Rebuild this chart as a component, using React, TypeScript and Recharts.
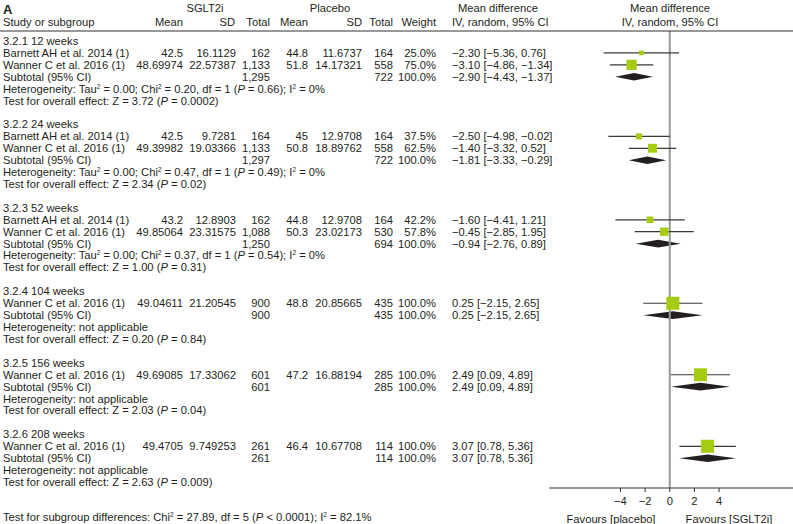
import React from 'react'
import { ComposedChart, Line, Area, Scatter, XAxis, YAxis, ReferenceLine } from 'recharts'

const groupLabels = ['3.2.1 12 weeks', '3.2.2 24 weeks', '3.2.3 52 weeks', '3.2.4 104 weeks', '3.2.5 156 weeks', '3.2.6 208 weeks']

const studyNames = [
  'Barnett AH et al. 2014 (1)', 'Wanner C et al. 2016 (1)',
  'Barnett AH et al. 2014 (1)', 'Wanner C et al. 2016 (1)',
  'Barnett AH et al. 2014 (1)', 'Wanner C et al. 2016 (1)',
  'Wanner C et al. 2016 (1)', 'Wanner C et al. 2016 (1)', 'Wanner C et al. 2016 (1)',
]
const studyGroup = [0, 0, 1, 1, 2, 2, 3, 4, 5]
const sgltMean = [42.5, 48.69974, 42.5, 49.39982, 43.2, 49.85064, 49.04611, 49.69085, 49.4705]
const sgltSD = [16.1129, 22.57387, 9.7281, 19.03366, 12.8903, 23.31575, 21.20545, 17.33062, 9.749253]
const sgltTotal = [162, 1133, 164, 1133, 162, 1088, 900, 601, 261]
const placMean = [44.8, 51.8, 45, 50.8, 44.8, 50.3, 48.8, 47.2, 46.4]
const placSD = [11.6737, 14.17321, 12.9708, 18.89762, 12.9708, 23.02173, 20.85665, 16.88194, 10.67708]
const placTotal = [164, 558, 164, 558, 164, 530, 435, 285, 114]
const studyWeight = [25.0, 75.0, 37.5, 62.5, 42.2, 57.8, 100, 100, 100]
const studyMD = [-2.3, -3.1, -2.5, -1.4, -1.6, -0.45, 0.25, 2.49, 3.07]
const studyLo = [-5.36, -4.86, -4.98, -3.32, -4.41, -2.85, -2.15, 0.09, 0.78]
const studyHi = [0.76, -1.34, -0.02, 0.52, 1.21, 1.95, 2.65, 4.89, 5.36]

const subSgltTotal = [1295, 1297, 1250, 900, 601, 261]
const subPlacTotal = [722, 722, 694, 435, 285, 114]
const subMD = [-2.9, -1.81, -0.94, 0.25, 2.49, 3.07]
const subLo = [-4.43, -3.33, -2.76, -2.15, 0.09, 0.78]
const subHi = [-1.37, -0.29, 0.89, 2.65, 4.89, 5.36]

const hetTau = ['0.00', '0.00', '0.00', null, null, null]
const hetChi = ['0.20', '0.47', '0.37', null, null, null]
const hetDf = [1, 1, 1, null, null, null]
const hetP = ['0.66', '0.49', '0.54', null, null, null]
const hetI2 = ['0%', '0%', '0%', null, null, null]
const zValue = ['3.72', '2.34', '1.00', '0.20', '2.03', '2.63']
const zP = ['0.0002', '0.02', '0.31', '0.84', '0.04', '0.009']

const xTicks = [-4, -2, 0, 2, 4]

// layout
const W = 793
const H = 524
const ROW0 = 41
const ROW_H = 11.92
const PLOT_TOP = 31
const PLOT_BOTTOM = 488
const PLOT_LEFT = 549
const FONT = '"Liberation Sans", Arial, sans-serif'
const FS = 11.2
const TXT = '#231f20'
const GREEN = '#a6cc12'

const rowY = (r: number) => ROW0 + r * ROW_H
const minus = (s: string) => s.replace(/-/g, '\u2212')
const fmtCI = (m: number, lo: number, hi: number) =>
  minus(`${m.toFixed(2)} [${lo.toFixed(2)}, ${hi.toFixed(2)}]`)
const fmtN = (n: number) => n.toLocaleString('en-US')

// assign rows
const studyRow: number[] = []
const subRow: number[] = []
const groupRow: number[] = []
{
  let r = 0
  groupLabels.forEach((_, g) => {
    groupRow.push(r)
    r++
    studyGroup.forEach((sg, i) => {
      if (sg === g) {
        studyRow[i] = r
        r++
      }
    })
    subRow.push(r)
    r += 4
  })
}

const col = { sgMean: 183, sgSD: 236, sgTotal: 270, plMean: 308, plSD: 362, plTotal: 393, weight: 436, ci: 452 }

// segments: plain strings, '^x' = superscript, '_P' = italic
function Rich({ parts }: { parts: string[] }) {
  const out: React.ReactNode[] = []
  let raised = false
  parts.forEach((p, i) => {
    if (p.startsWith('^')) {
      out.push(<tspan key={i} dy={-4} fontSize={6.5}>{p.slice(1)}</tspan>)
      raised = true
    } else {
      const dy = raised ? 4 : undefined
      raised = false
      if (p.startsWith('_')) out.push(<tspan key={i} dy={dy} fontStyle="italic">{p.slice(1)}</tspan>)
      else out.push(<tspan key={i} dy={dy}>{p}</tspan>)
    }
  })
  return <>{out}</>
}

function T(props: any) {
  return <text fontFamily={FONT} fontSize={FS} fill={TXT} dy="0.35em" {...props} />
}

function TableText() {
  const rows: React.ReactNode[] = []
  groupLabels.forEach((lab, g) => {
    const gr = groupRow[g]
    rows.push(<T key={`g${g}`} x={3} y={rowY(gr)}>{lab}</T>)
    const sr = subRow[g]
    rows.push(<T key={`s${g}`} x={3} y={rowY(sr)}>Subtotal (95% CI)</T>)
    rows.push(<T key={`st${g}`} x={col.sgTotal} y={rowY(sr)} textAnchor="end">{fmtN(subSgltTotal[g])}</T>)
    rows.push(<T key={`pt${g}`} x={col.plTotal} y={rowY(sr)} textAnchor="end">{fmtN(subPlacTotal[g])}</T>)
    rows.push(<T key={`w${g}`} x={col.weight} y={rowY(sr)} textAnchor="end">100.0%</T>)
    rows.push(<T key={`c${g}`} x={col.ci} y={rowY(sr)}>{fmtCI(subMD[g], subLo[g], subHi[g])}</T>)
    if (hetTau[g] !== null) {
      rows.push(
        <T key={`h${g}`} x={3} y={rowY(sr + 1)}>
          <Rich
            parts={[
              'Heterogeneity: Tau', '^2', ` = ${hetTau[g]}; Chi`, '^2',
              ` = ${hetChi[g]}, df = ${hetDf[g]} (`, '_P', ` = ${hetP[g]}); I`, '^2', ` = ${hetI2[g]}`,
            ]}
          />
        </T>
      )
    } else {
      rows.push(<T key={`h${g}`} x={3} y={rowY(sr + 1)}>Heterogeneity: not applicable</T>)
    }
    rows.push(
      <T key={`z${g}`} x={3} y={rowY(sr + 2)}>
        <Rich parts={[`Test for overall effect: Z = ${zValue[g]} (`, '_P', ` = ${zP[g]})`]} />
      </T>
    )
  })
  studyNames.forEach((name, i) => {
    const y = rowY(studyRow[i])
    rows.push(<T key={`n${i}`} x={3} y={y}>{name}</T>)
    rows.push(<T key={`a${i}`} x={col.sgMean} y={y} textAnchor="end">{String(sgltMean[i])}</T>)
    rows.push(<T key={`b${i}`} x={col.sgSD} y={y} textAnchor="end">{String(sgltSD[i])}</T>)
    rows.push(<T key={`c${i}`} x={col.sgTotal} y={y} textAnchor="end">{fmtN(sgltTotal[i])}</T>)
    rows.push(<T key={`d${i}`} x={col.plMean} y={y} textAnchor="end">{String(placMean[i])}</T>)
    rows.push(<T key={`e${i}`} x={col.plSD} y={y} textAnchor="end">{String(placSD[i])}</T>)
    rows.push(<T key={`f${i}`} x={col.plTotal} y={y} textAnchor="end">{fmtN(placTotal[i])}</T>)
    rows.push(<T key={`k${i}`} x={col.weight} y={y} textAnchor="end">{studyWeight[i].toFixed(1) + '%'}</T>)
    rows.push(<T key={`m${i}`} x={col.ci} y={y}>{fmtCI(studyMD[i], studyLo[i], studyHi[i])}</T>)
  })

  return (
    <svg width={W} height={H} style={{ position: 'absolute', left: 0, top: 0, pointerEvents: 'none' }}>
      <text x={3} y={14} fontFamily={FONT} fontSize={13} fontWeight="bold" fill={TXT}>A</text>
      <T x={205} y={8} textAnchor="middle">SGLT2i</T>
      <T x={330} y={8} textAnchor="middle">Placebo</T>
      <T x={498} y={8} textAnchor="middle">Mean difference</T>
      <T x={670} y={8} textAnchor="middle">Mean difference</T>
      <T x={3} y={22}>Study or subgroup</T>
      <T x={col.sgMean} y={22} textAnchor="end">Mean</T>
      <T x={col.sgSD - 1} y={22} textAnchor="end">SD</T>
      <T x={col.sgTotal} y={22} textAnchor="end">Total</T>
      <T x={col.plMean} y={22} textAnchor="end">Mean</T>
      <T x={col.plSD} y={22} textAnchor="end">SD</T>
      <T x={col.plTotal} y={22} textAnchor="end">Total</T>
      <T x={col.weight} y={22} textAnchor="end">Weight</T>
      <T x={col.ci} y={22}>IV, random, 95% CI</T>
      <T x={670} y={22} textAnchor="middle">IV, random, 95% CI</T>
      <line x1={0} x2={W} y1={PLOT_TOP} y2={PLOT_TOP} stroke="#333" strokeWidth={1} />
      {rows}
      <T x={3} y={517}>
        <Rich
          parts={['Test for subgroup differences: Chi', '^2', ' = 27.89, df = 5 (', '_P', ' < 0.0001); I', '^2', ' = 82.1%']}
        />
      </T>
      <T x={611} y={519} textAnchor="middle">Favours [placebo]</T>
      <T x={729} y={519} textAnchor="middle">Favours [SGLT2i]</T>
    </svg>
  )
}

const squareData = studyNames.map((_, i) => ({ x: studyMD[i], y: studyRow[i], w: studyWeight[i] }))

const Square = (props: any) => {
  const { cx, cy, payload } = props
  if (cx == null || cy == null) return null
  const s = 2 + (11 * payload.w) / 100
  return <rect x={cx - s / 2} y={cy - s / 2} width={s} height={s} fill={GREEN} />
}

export default function App() {
  const d0 = (PLOT_TOP - ROW0) / ROW_H
  const d1 = (PLOT_BOTTOM - ROW0) / ROW_H
  return (
    <div style={{ position: 'absolute', left: 0, top: 0, width: W, height: H, background: '#fff' }}>
      <ComposedChart width={W} height={H} margin={{ top: PLOT_TOP, right: 0, bottom: 0, left: PLOT_LEFT }}>
        <XAxis
          type="number"
          dataKey="x"
          domain={[-9.8, 10]}
          ticks={xTicks}
          allowDataOverflow
          height={H - PLOT_BOTTOM}
          stroke="#333"
          tickSize={4}
          tickMargin={5}
          tick={{ fontSize: FS, fill: TXT, fontFamily: FONT }}
          tickFormatter={(v: number) => minus(String(v))}
        />
        <YAxis type="number" dataKey="y" domain={[d0, d1]} reversed hide allowDataOverflow />
        <ReferenceLine x={0} stroke="#999" strokeWidth={2} />
        {studyNames.map((_, i) => (
          <Line
            key={`ci${i}`}
            data={[{ x: studyLo[i], y: studyRow[i] }, { x: studyHi[i], y: studyRow[i] }]}
            dataKey="y"
            type="linear"
            stroke="#3a3a3a"
            strokeWidth={1.2}
            dot={false}
            activeDot={false}
            isAnimationActive={false}
          />
        ))}
        {groupLabels.map((_, g) => (
          <Area
            key={`dia${g}`}
            data={[
              { x: subLo[g], v: [subRow[g], subRow[g]] },
              { x: subMD[g], v: [subRow[g] - 0.32, subRow[g] + 0.32] },
              { x: subHi[g], v: [subRow[g], subRow[g]] },
            ]}
            dataKey="v"
            type="linear"
            stroke="none"
            fill="#231f20"
            fillOpacity={1}
            dot={false}
            activeDot={false}
            isAnimationActive={false}
          />
        ))}
        <Scatter data={squareData} shape={Square} isAnimationActive={false} />
      </ComposedChart>
      <TableText />
    </div>
  )
}
